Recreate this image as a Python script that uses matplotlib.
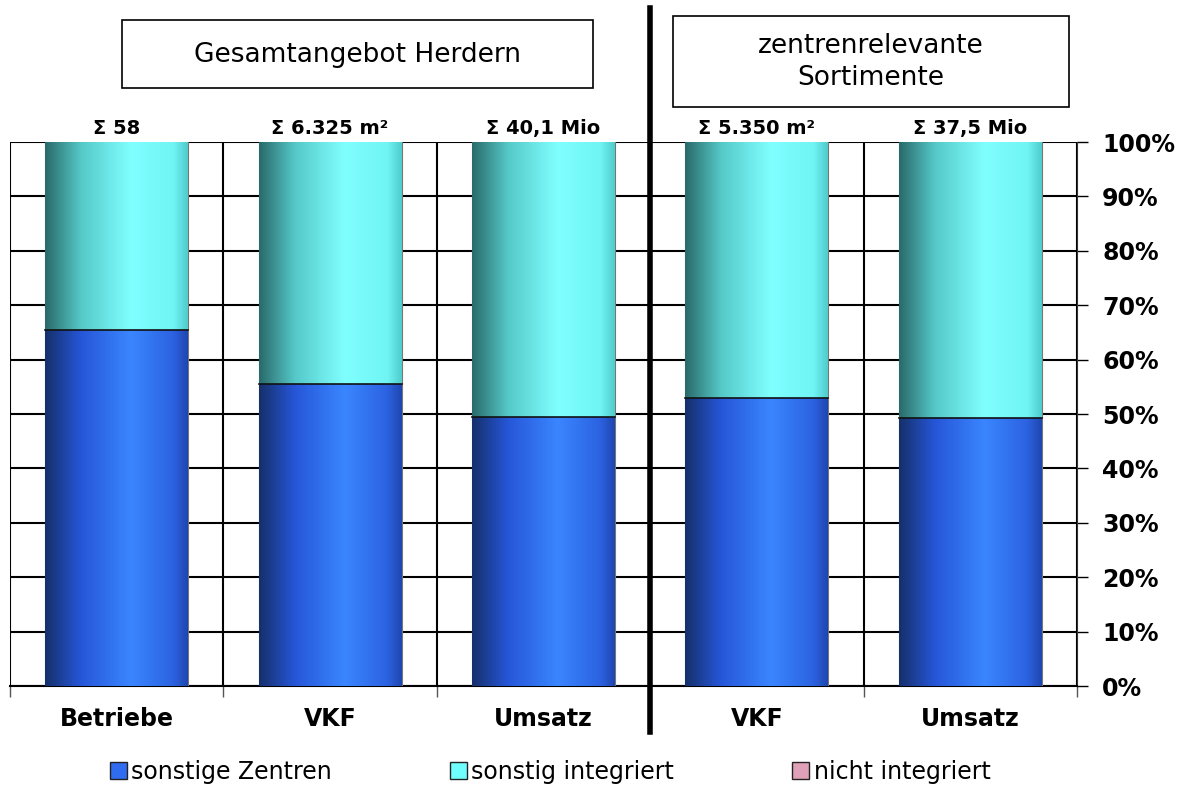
import numpy as np
import matplotlib.pyplot as plt
from matplotlib.patches import Rectangle
from matplotlib.colors import LinearSegmentedColormap

plt.rcParams['font.family'] = ['DejaVu Sans']

kategorien = ['Betriebe', 'VKF', 'Umsatz', 'VKF', 'Umsatz']
summen = ['Σ 58', 'Σ 6.325 m²', 'Σ 40,1 Mio', 'Σ 5.350 m²', 'Σ 37,5 Mio']
sonstige_zentren = [65.5, 55.5, 49.5, 53.0, 49.3]
sonstig_integriert = [34.5, 44.5, 50.5, 47.0, 50.7]
nicht_integriert = [0, 0, 0, 0, 0]
serien = ['sonstige Zentren', 'sonstig integriert', 'nicht integriert']
farben = ['#2f6cf0', '#70ffff', '#e0a0b8']

# Farbverlaeufe fuer die Saeulen (links dunkel, Mitte hell, rechts etwas dunkler)
cmaps = [
    LinearSegmentedColormap.from_list('blau', [(0, '#15306a'), (0.25, '#2656d8'), (0.6, '#3a86ff'), (0.9, '#2c62e0'), (1, '#1e46b0')]),
    LinearSegmentedColormap.from_list('cyan', [(0, '#2a6a6a'), (0.25, '#55c8c8'), (0.6, '#80ffff'), (0.9, '#70f4f4'), (1, '#50cccc')]),
    LinearSegmentedColormap.from_list('rosa', [(0, '#a07080'), (0.6, '#e0a0b8'), (1, '#c08098')]),
]

fig = plt.figure(figsize=(11.81, 7.87), dpi=100)
ax = fig.add_axes([10/1181, 1 - 686/787, 1067/1181, 544/787])

x = np.arange(len(kategorien)) + 0.5
breite = 0.67
unten = np.zeros(len(kategorien))
verlauf = np.linspace(0, 1, 256).reshape(1, -1)
for werte, farbe, cmap in zip([sonstige_zentren, sonstig_integriert, nicht_integriert], farben, cmaps):
    bars = ax.bar(x, werte, breite, bottom=unten, color=farbe, edgecolor='#777777', linewidth=0.8, zorder=3)
    for b in bars:
        if b.get_height() <= 0:
            continue
        im = ax.imshow(verlauf, cmap=cmap, aspect='auto', zorder=3.5,
                       extent=[b.get_x(), b.get_x() + b.get_width(), b.get_y(), b.get_y() + b.get_height()])
        im.set_clip_path(b)
    unten += np.array(werte)

# Trennlinien zwischen den Segmenten
for i in range(len(kategorien)):
    ax.plot([x[i] - breite/2, x[i] + breite/2], [sonstige_zentren[i]] * 2, color='#111111', lw=1.2, zorder=4)

ax.set_xlim(0, 5)
ax.set_ylim(0, 100)
ax.set_yticks(np.arange(0, 101, 10))
ax.set_yticklabels([f'{v}%' for v in range(0, 101, 10)], fontsize=17, fontweight='bold')
ax.yaxis.tick_right()
ax.tick_params(axis='y', direction='out', length=8, width=1, pad=10)
ax.set_xticks(np.arange(0, 6))
ax.set_xticklabels([])
ax.tick_params(axis='x', direction='out', length=8, width=1, color='#555555')
for i, lab in enumerate(kategorien):
    ax.text(x[i], -6, lab, ha='center', va='center', fontsize=17, fontweight='bold', clip_on=False)
ax.grid(True, color='black', lw=1.5, zorder=0)
for s in ['top', 'left']:
    ax.spines[s].set_visible(False)
ax.spines['right'].set_color('#333333')
ax.spines['bottom'].set_linewidth(1.5)

for i, s in enumerate(summen):
    ax.text(x[i], 102.5, s, ha='center', va='center', fontsize=14, fontweight='bold', clip_on=False)

# dicke Trennlinie
fig.add_artist(plt.Line2D([650/1181, 650/1181], [1 - 8/787, 1 - 732/787], color='black', lw=4))

# Ueberschriftskaesten
fig.add_artist(Rectangle((122/1181, 1 - 88/787), 471/1181, 68/787, fill=False, ec='black', lw=1.2))
fig.text(357/1181, 1 - 55/787, 'Gesamtangebot Herdern', ha='center', va='center', fontsize=19)
fig.add_artist(Rectangle((673/1181, 1 - 107/787), 396/1181, 91/787, fill=False, ec='black', lw=1.2))
fig.text(871/1181, 1 - 62/787, 'zentrenrelevante\nSortimente', ha='center', va='center', fontsize=19, linespacing=1.3)

handles = [Rectangle((0, 0), 1, 1, fc=f, ec='#222222', lw=1) for f in farben]
fig.legend(handles, serien, loc='center', bbox_to_anchor=(0.466, 1 - 772/787), ncol=3, frameon=False,
           fontsize=17, handlelength=0.7, handleheight=0.7, handletextpad=0.2, columnspacing=5.0)

fig.savefig('out.png', dpi=100)
